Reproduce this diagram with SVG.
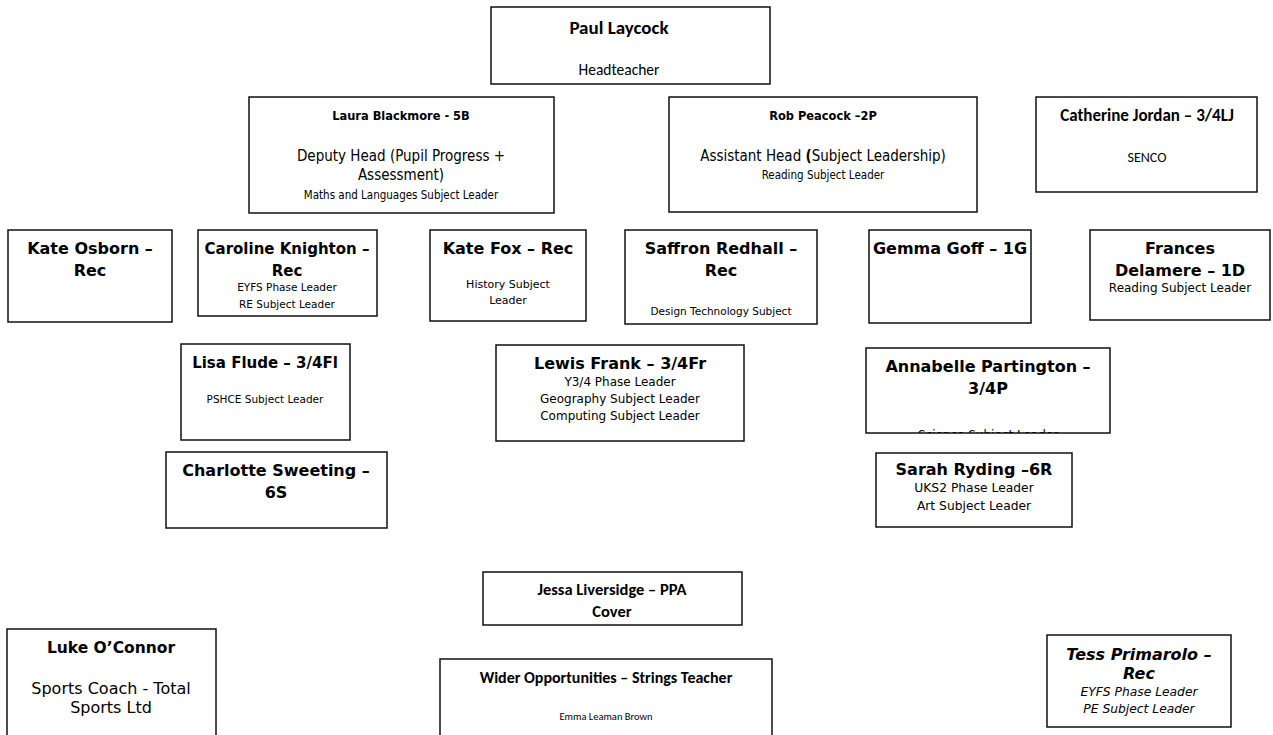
<svg xmlns="http://www.w3.org/2000/svg" width="1273" height="735" viewBox="0 0 1273 735">
<style>
rect.b{fill:#fff;stroke:#111;stroke-width:1.5}
text{text-anchor:middle;fill:#000}
.v{font-family:"DejaVu Sans",Verdana,sans-serif}
.vb{font-family:"DejaVu Sans",Verdana,sans-serif;font-weight:bold;font-size:16px}
.t{font-family:"DejaVu Sans Condensed","DejaVu Sans",sans-serif}
.c{font-family:Carlito,"Liberation Sans",Arial,sans-serif}
.s{font-family:"DejaVu Sans",Verdana,sans-serif;font-size:12px}
.s2{font-family:"DejaVu Sans",Verdana,sans-serif;font-size:10.5px}
</style>
<defs>
<clipPath id="clipA"><rect x="866" y="348" width="244" height="85"/></clipPath>
</defs>
<rect width="1273" height="735" fill="#fff"/>
<g id="connectors"></g>

<g id="paul">
<rect class="b" x="491" y="7" width="279" height="77"/>
<text class="c" x="619" y="34" font-size="19" font-weight="bold">Paul Laycock</text>
<text class="c" x="619" y="75" font-size="15.5">Headteacher</text>
</g>

<g id="laura">
<rect class="b" x="249" y="97" width="305" height="116"/>
<text class="t" x="401" y="120" font-size="12.7" font-weight="bold">Laura Blackmore - 5B</text>
<text class="t" x="401" y="161" font-size="15">Deputy Head (Pupil Progress +</text>
<text class="t" x="401" y="180" font-size="15">Assessment)</text>
<text class="t" x="401" y="199" font-size="11.5">Maths and Languages Subject Leader</text>
</g>

<g id="rob">
<rect class="b" x="669" y="97" width="308" height="115"/>
<text class="t" x="823" y="120" font-size="12.7" font-weight="bold">Rob Peacock –2P</text>
<text class="t" x="823" y="161" font-size="15">Assistant Head <tspan font-weight="bold">(</tspan>Subject Leadership)</text>
<text class="t" x="823" y="179" font-size="11.5">Reading Subject Leader</text>
</g>

<g id="catherine">
<rect class="b" x="1036" y="97" width="221" height="95"/>
<text class="c" x="1147" y="121" font-size="17" font-weight="bold">Catherine Jordan – 3/4LJ</text>
<text class="c" x="1147" y="162" font-size="14">SENCO</text>
</g>

<g id="kate-osborn">
<rect class="b" x="8" y="230" width="164" height="92"/>
<text class="vb" x="90" y="254">Kate Osborn –</text>
<text class="vb" x="90" y="276">Rec</text>
</g>

<g id="caroline">
<rect class="b" x="198" y="230" width="179" height="86"/>
<text class="vb" x="287" y="254" style="font-size:15px">Caroline Knighton –</text>
<text class="vb" x="287" y="276" style="font-size:15px">Rec</text>
<text class="v" x="287" y="291" font-size="10.5">EYFS Phase Leader</text>
<text class="v" x="287" y="308" font-size="10.5">RE Subject Leader</text>
</g>

<g id="kate-fox">
<rect class="b" x="430" y="230" width="156" height="91"/>
<text class="vb" x="508" y="254">Kate Fox – Rec</text>
<text class="v" x="508" y="288" font-size="11">History Subject</text>
<text class="v" x="508" y="304" font-size="11">Leader</text>
</g>

<g id="saffron">
<rect class="b" x="625" y="230" width="192" height="94"/>
<text class="vb" x="721" y="254">Saffron Redhall –</text>
<text class="vb" x="721" y="276">Rec</text>
<text class="s2" x="721" y="315">Design Technology Subject</text>
</g>

<g id="gemma">
<rect class="b" x="869" y="230" width="162" height="93"/>
<text class="vb" x="950" y="254">Gemma Goff – 1G</text>
</g>

<g id="frances">
<rect class="b" x="1090" y="230" width="180" height="90"/>
<text class="vb" x="1180" y="254">Frances</text>
<text class="vb" x="1180" y="276">Delamere – 1D</text>
<text class="s" x="1180" y="292">Reading Subject Leader</text>
</g>

<g id="lisa">
<rect class="b" x="181" y="344" width="169" height="96"/>
<text class="vb" x="265" y="368" style="font-size:15px">Lisa Flude – 3/4Fl</text>
<text class="s2" x="265" y="403">PSHCE Subject Leader</text>
</g>

<g id="lewis">
<rect class="b" x="496" y="345" width="248" height="96"/>
<text class="vb" x="620" y="369">Lewis Frank – 3/4Fr</text>
<text class="s" x="620" y="386">Y3/4 Phase Leader</text>
<text class="s" x="620" y="403">Geography Subject Leader</text>
<text class="s" x="620" y="420">Computing Subject Leader</text>
</g>

<g id="annabelle">
<rect class="b" x="866" y="348" width="244" height="85"/>
<text class="vb" x="988" y="372">Annabelle Partington –</text>
<text class="vb" x="988" y="394">3/4P</text>
<text class="s" x="988" y="439" clip-path="url(#clipA)">Science Subject Leader</text>
</g>

<g id="charlotte">
<rect class="b" x="166" y="452" width="221" height="76"/>
<text class="vb" x="276" y="476">Charlotte Sweeting –</text>
<text class="vb" x="276" y="498">6S</text>
</g>

<g id="sarah">
<rect class="b" x="876" y="453" width="196" height="74"/>
<text class="vb" x="974" y="475">Sarah Ryding –6R</text>
<text class="s" x="974" y="492" style="font-size:12.3px">UKS2 Phase Leader</text>
<text class="s" x="974" y="510" style="font-size:12.3px">Art Subject Leader</text>
</g>

<g id="jessa">
<rect class="b" x="483" y="572" width="259" height="53"/>
<text class="c" x="612" y="595" font-size="16.5" font-weight="bold">Jessa Liversidge – PPA</text>
<text class="c" x="612" y="617" font-size="16.5" font-weight="bold">Cover</text>
</g>

<g id="luke">
<rect class="b" x="7" y="629" width="209" height="110"/>
<text class="v" x="111" y="653" font-size="15.5" font-weight="bold">Luke O’Connor</text>
<text class="v" x="111" y="694" font-size="16">Sports Coach - Total</text>
<text class="v" x="111" y="713" font-size="16">Sports Ltd</text>
</g>

<g id="wider">
<rect class="b" x="440" y="659" width="332" height="80"/>
<text class="c" x="606" y="683" font-size="16" font-weight="bold">Wider Opportunities – Strings Teacher</text>
<text class="c" x="606" y="720" font-size="10.5">Emma Leaman Brown</text>
</g>

<g id="tess">
<rect class="b" x="1047" y="635" width="184" height="92"/>
<text class="v" x="1139" y="660" font-size="16" font-weight="bold" font-style="italic">Tess Primarolo –</text>
<text class="v" x="1139" y="679" font-size="16" font-weight="bold" font-style="italic">Rec</text>
<text class="v" x="1139" y="696" font-size="12.3" font-style="italic">EYFS Phase Leader</text>
<text class="v" x="1139" y="713" font-size="12.3" font-style="italic">PE Subject Leader</text>
</g>
</svg>
